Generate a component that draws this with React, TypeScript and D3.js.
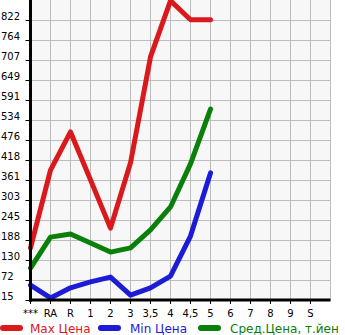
import React from "react";
import * as d3 from "d3";

const categories = ["***", "RA", "R", "1", "2", "3", "3,5", "4", "4,5", "5", "6", "7", "8", "9", "S"];
const yTickLabels = ["15", "72", "130", "188", "245", "303", "361", "418", "476", "534", "591", "649", "707", "764", "822"];
const maxPrice = [165, 389, 499, 361, 222, 410, 715, 877, 822, 822];
const minPrice = [58, 21, 50, 67, 81, 29, 50, 84, 199, 381];
const avgPrice = [107, 196, 205, 179, 153, 165, 217, 283, 407, 565];

const series = [
  { name: "Max Цена", color: "#d9191c", values: maxPrice },
  { name: "Min Цена", color: "#1c1cd6", values: minPrice },
  { name: "Сред.Цена, т.йен", color: "#0a800a", values: avgPrice },
];

export default function App() {
  const W = 345, H = 335;
  const left = 30.5, right = 330.5, top = 0, bottom = 300;
  const x = d3.scaleLinear().domain([0, 15]).range([left, right]);
  const y = d3.scaleLinear().domain([15, 879]).range([bottom, top]);
  const tickVals = yTickLabels.map((_, i) => 15 + 57.6 * i);
  const line = d3
    .line<number>()
    .x((_, i) => x(i))
    .y((d) => y(d));
  const font = "'DejaVu Sans', Verdana, sans-serif";
  const legendX = [0, 98, 198];
  const legendTextX = [30, 130, 230];
  return (
    <svg width={W} height={H} style={{ position: "absolute", left: 0, top: 0 }}>
      <rect x={left} y={top} width={right - left} height={bottom - top} fill="#f7f7f7" />
      {d3.range(1, 16).map((i) => (
        <line key={"vx" + i} x1={x(i)} x2={x(i)} y1={top} y2={bottom} stroke="#bdbdbd" strokeWidth={1} />
      ))}
      {tickVals.map((v, i) => (
        <line key={"hy" + i} x1={left} x2={right} y1={Math.round(y(v)) + 0.5} y2={Math.round(y(v)) + 0.5} stroke="#bdbdbd" strokeWidth={1} />
      ))}
      {series.map((s) => (
        <path key={s.name} d={line(s.values) || ""} fill="none" stroke={s.color} strokeWidth={5} strokeLinejoin="round" strokeLinecap="round" />
      ))}
      <line x1={left} x2={left} y1={top} y2={bottom + 1.5} stroke="#000" strokeWidth={3} />
      <line x1={left - 1.5} x2={right} y1={bottom} y2={bottom} stroke="#000" strokeWidth={3} />
      {tickVals.map((v, i) => (
        <g key={"yt" + i}>
          <line x1={left - 5} x2={left} y1={Math.round(y(v)) + 0.5} y2={Math.round(y(v)) + 0.5} stroke="#000" strokeWidth={1} />
          <text x={1} y={Math.round(y(v))} fontSize={10} fontFamily={font} fill="#000">
            {yTickLabels[i]}
          </text>
        </g>
      ))}
      {categories.map((c, i) => (
        <g key={"xt" + i}>
          <line x1={x(i)} x2={x(i)} y1={bottom} y2={bottom + 4} stroke="#000" strokeWidth={1} />
          <text x={x(i)} y={317} fontSize={10} fontFamily={font} textAnchor="middle" fill="#000">
            {c}
          </text>
        </g>
      ))}
      {series.map((s, i) => (
        <g key={"lg" + i}>
          <line x1={legendX[i] + 3} x2={legendX[i] + 20} y1={328} y2={328} stroke={s.color} strokeWidth={6} strokeLinecap="round" />
          <text x={legendTextX[i]} y={333} fontSize={12} fontFamily={font} fill={s.color}>
            {s.name}
          </text>
        </g>
      ))}
    </svg>
  );
}
